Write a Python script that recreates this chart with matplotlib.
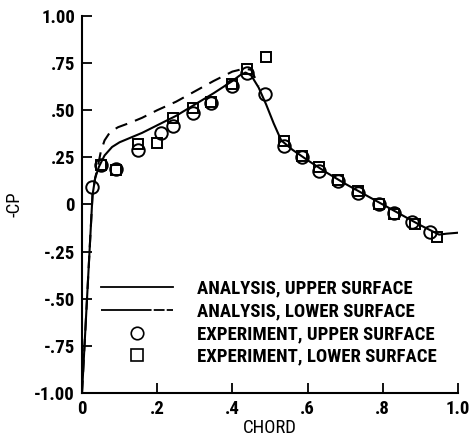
import matplotlib
matplotlib.use("Agg")
import matplotlib.pyplot as plt
from matplotlib.lines import Line2D

plt.rcParams["font.family"] = ["Roboto Condensed", "DejaVu Sans"]
plt.rcParams["font.weight"] = "bold"

# analysis, upper surface
x_upper_calc = [0.0, 0.028, 0.035, 0.045, 0.06, 0.08, 0.10, 0.13, 0.16, 0.20, 0.25,
                0.30, 0.35, 0.40, 0.42, 0.435, 0.45, 0.47, 0.49, 0.51, 0.53, 0.56,
                0.60, 0.65, 0.70, 0.75, 0.80, 0.85, 0.90, 0.93, 0.95, 0.97, 1.00]
cp_upper_calc = [-1.0, 0.05, 0.14, 0.20, 0.26, 0.305, 0.33, 0.355, 0.38, 0.42, 0.47,
                 0.53, 0.59, 0.655, 0.685, 0.70, 0.685, 0.62, 0.53, 0.43, 0.34, 0.29,
                 0.235, 0.17, 0.11, 0.055, 0.0, -0.055, -0.11, -0.14, -0.16, -0.155, -0.15]

# analysis, lower surface
x_lower_calc = [0.0, 0.028, 0.035, 0.042, 0.05, 0.06, 0.075, 0.096, 0.13, 0.16, 0.20,
                0.25, 0.30, 0.35, 0.40, 0.43, 0.45, 0.47]
cp_lower_calc = [-1.0, 0.05, 0.14, 0.20, 0.28, 0.34, 0.385, 0.41, 0.435, 0.46, 0.50,
                 0.545, 0.60, 0.655, 0.705, 0.72, 0.715, 0.63]

# experiment, upper surface
x_upper_exp = [0.027, 0.05, 0.09, 0.15, 0.21, 0.243, 0.295, 0.343, 0.40, 0.44, 0.487,
               0.537, 0.585, 0.63, 0.68, 0.735, 0.79, 0.83, 0.878, 0.925]
cp_upper_exp = [0.09, 0.21, 0.19, 0.29, 0.38, 0.415, 0.485, 0.54, 0.63, 0.70, 0.585,
                0.31, 0.25, 0.18, 0.125, 0.06, 0.005, -0.045, -0.094, -0.146]

# experiment, lower surface
x_lower_exp = [0.05, 0.09, 0.15, 0.20, 0.243, 0.295, 0.343, 0.40, 0.44, 0.49, 0.537,
               0.585, 0.63, 0.68, 0.735, 0.79, 0.83, 0.885, 0.944]
cp_lower_exp = [0.21, 0.185, 0.32, 0.325, 0.46, 0.51, 0.545, 0.64, 0.72, 0.78, 0.335,
                0.255, 0.20, 0.13, 0.07, 0.005, -0.05, -0.105, -0.175]

x_ticks = [0.0, 0.2, 0.4, 0.6, 0.8, 1.0]
x_tick_labels = ["0", ".2", ".4", ".6", ".8", "1.0"]
y_ticks = [-1.0, -0.75, -0.5, -0.25, 0.0, 0.25, 0.5, 0.75, 1.0]
y_tick_labels = ["-1.00", "-.75", "-.50", "-.25", "0", ".25", ".50", ".75", "1.00"]

legend_labels = ["ANALYSIS, UPPER SURFACE", "ANALYSIS, LOWER SURFACE",
                 "EXPERIMENT, UPPER SURFACE", "EXPERIMENT, LOWER SURFACE"]

fig = plt.figure(figsize=(4.74, 4.44), dpi=100)
ax = fig.add_axes([0.173, 0.115, 0.793, 0.849])

ax.plot(x_upper_calc, cp_upper_calc, color="black", lw=1.5)
ax.plot(x_lower_calc, cp_lower_calc, color="black", lw=1.5, dashes=(6, 4))
ax.plot(x_upper_exp, cp_upper_exp, ls="none", marker="o", ms=9,
        mfc="none", mec="black", mew=1.4)
ax.plot(x_lower_exp, cp_lower_exp, ls="none", marker="s", ms=7.5,
        mfc="none", mec="black", mew=1.4)

ax.set_xlim(0, 1.0)
ax.set_ylim(-1.0, 1.0)
ax.set_xticks(x_ticks, x_tick_labels)
ax.set_yticks(y_ticks, y_tick_labels)
ax.tick_params(direction="in", length=7, width=1.3, labelsize=13.5, pad=5)
for side in ("top", "right"):
    ax.spines[side].set_visible(False)
for side in ("left", "bottom"):
    ax.spines[side].set_linewidth(1.5)

ax.set_xlabel("CHORD", fontsize=13.5, labelpad=1)
ax.set_ylabel("-CP", fontsize=13.5, labelpad=8)

# legend key for the lower surface is a long dash with short breaks near its end
handles = [
    Line2D([], [], color="black", lw=1.3),
    Line2D([], [], color="black", lw=1.3, dashes=(28, 1.2, 6, 1.2, 4, 1.2)),
    Line2D([], [], ls="none", marker="o", ms=9, mfc="none", mec="black", mew=1.2),
    Line2D([], [], ls="none", marker="s", ms=8, mfc="none", mec="black", mew=1.2),
]
ax.legend(handles, legend_labels, loc="upper left", bbox_to_anchor=(0.03, 0.32),
          frameon=False, fontsize=13.5, handlelength=3.85, handletextpad=1.3,
          labelspacing=0.25, borderaxespad=0)

fig.savefig("out.png", dpi=100, facecolor="white")
